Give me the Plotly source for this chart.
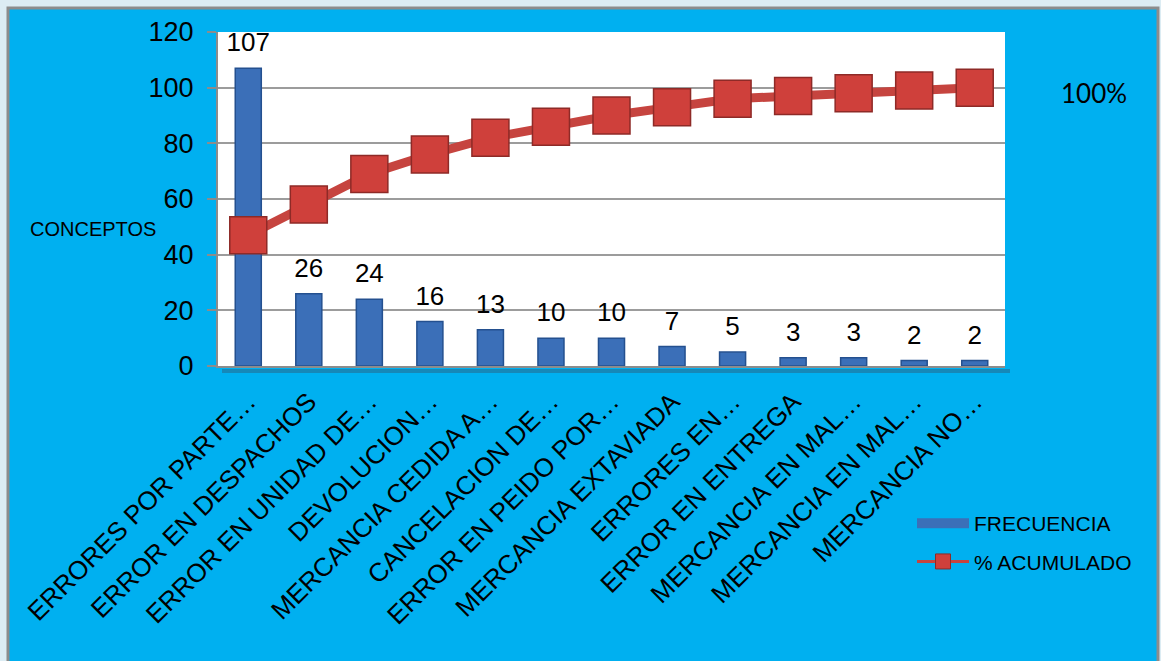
import plotly.graph_objects as go

categorias = [
    "ERRORES POR PARTE…",
    "ERROR EN DESPACHOS",
    "ERROR EN UNIDAD DE…",
    "DEVOLUCION…",
    "MERCANCIA CEDIDA A…",
    "CANCELACION DE…",
    "ERROR EN PEIDO POR…",
    "MERCANCIA EXTAVIADA",
    "ERRORES EN…",
    "ERROR EN ENTREGA",
    "MERCANCIA EN MAL…",
    "MERCANCIA EN MAL…",
    "MERCANCIA NO…",
]
frecuencia = [107, 26, 24, 16, 13, 10, 10, 7, 5, 3, 3, 2, 2]
acumulado = [47, 58, 69, 76, 82, 86, 90, 93, 96, 97, 98, 99, 100]
y_ticks = [0, 20, 40, 60, 80, 100, 120]

x_pos = list(range(len(categorias)))

W, H = 1161, 661
L, R, T, B = 218, 156, 32, 295
pw = W - L - R
ph = H - T - B


def px2x(px):
    return (px - L) / pw


def py2y(py):
    return (H - B - py) / ph


FONT = "Liberation Sans, Arial, sans-serif"
BAR_COLOR = "#3B6FB8"
BAR_EDGE = "#24508F"
LINE_COLOR = "#C6443F"
MARK_COLOR = "#CF403B"
MARK_EDGE = "#8E2A27"

fig = go.Figure()

fig.add_trace(go.Bar(
    x=x_pos, y=frecuencia, name="FRECUENCIA", width=0.43,
    marker=dict(color=BAR_COLOR, line=dict(color=BAR_EDGE, width=1.5)),
    showlegend=False,
))

fig.add_trace(go.Scatter(
    x=x_pos, y=frecuencia, mode="markers+text", text=[str(v) for v in frecuencia],
    textposition="top center",
    textfont=dict(family=FONT, size=26, color="#000000"),
    marker=dict(size=15, opacity=0),
    showlegend=False, hoverinfo="skip", cliponaxis=False,
))

fig.add_trace(go.Scatter(
    x=x_pos, y=acumulado, name="% ACUMULADO", mode="lines+markers",
    line=dict(color=LINE_COLOR, width=9),
    marker=dict(symbol="square", size=37, color=MARK_COLOR,
                line=dict(color=MARK_EDGE, width=1.5)),
    cliponaxis=False, showlegend=False,
))

# legend entries
fig.add_trace(go.Scatter(
    x=[None], y=[None], name="FRECUENCIA", mode="lines",
    line=dict(color=BAR_COLOR, width=10), legendgroup="a",
))
fig.add_trace(go.Scatter(
    x=[None], y=[None], name="% ACUMULADO", mode="lines+markers",
    line=dict(color=LINE_COLOR, width=3),
    marker=dict(symbol="square", size=15, color=MARK_COLOR,
                line=dict(color=MARK_EDGE, width=1)),
    legendgroup="b",
))

fig.update_layout(
    width=W, height=H,
    margin=dict(l=L, r=R, t=T, b=B),
    paper_bgcolor="#DCECF3",
    plot_bgcolor="#FFFFFF",
    font=dict(family=FONT, color="#000000"),
    showlegend=True,
    legend=dict(
        x=px2x(912), y=py2y(503), xanchor="left", yanchor="top",
        bgcolor="rgba(0,0,0,0)", font=dict(family=FONT, size=21),
        itemwidth=52, traceorder="grouped", tracegroupgap=8,
    ),
    shapes=[
        dict(type="rect", xref="paper", yref="paper", layer="below",
             x0=px2x(8), x1=px2x(1158), y0=py2y(670), y1=py2y(8),
             fillcolor="#00B0F0", line=dict(color="#8C8C8C", width=3)),
        dict(type="rect", xref="paper", yref="paper", layer="below",
             x0=0, x1=1, y0=0, y1=1,
             fillcolor="#FFFFFF", line=dict(width=0)),
        dict(type="line", xref="paper", yref="paper", layer="below",
             x0=px2x(222), x1=px2x(1010), y0=py2y(371), y1=py2y(371),
             line=dict(color="#1688B8", width=4)),
    ],
    annotations=[
        dict(text="CONCEPTOS", xref="paper", yref="paper",
             x=px2x(28), y=py2y(229), xanchor="left", yanchor="middle",
             showarrow=False, font=dict(family=FONT, size=20)),
        dict(text="100%", xref="paper", yref="paper",
             x=px2x(1094), y=py2y(93), xanchor="center", yanchor="middle",
             showarrow=False, font=dict(family="Lato, sans-serif", size=26)),
    ],
)

fig.update_xaxes(
    range=[-0.5, len(categorias) - 0.5],
    tickmode="array", tickvals=x_pos, ticktext=categorias,
    tickangle=-45, tickfont=dict(family=FONT, size=26),
    ticklabelstandoff=8,
    showgrid=False, showline=True, linecolor="#8C8C8C", linewidth=2,
    ticks="", zeroline=False,
)
fig.update_yaxes(
    range=[0, 120], tickvals=y_ticks,
    tickfont=dict(family=FONT, size=27),
    ticklabelstandoff=8,
    showgrid=True, gridcolor="#9C9C9C", gridwidth=1.5,
    showline=True, linecolor="#8C8C8C", linewidth=2,
    ticks="outside", ticklen=9, tickcolor="#8C8C8C", tickwidth=2,
    zeroline=False,
)

fig.write_html("out.html")
